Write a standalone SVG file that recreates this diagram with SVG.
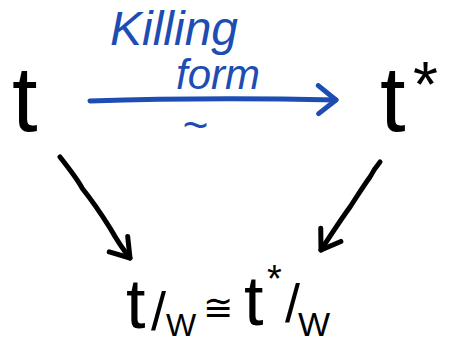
<svg xmlns="http://www.w3.org/2000/svg" width="451" height="344" viewBox="0 0 451 344">
  <style>
    .ink { fill: #000; font-family: "Liberation Sans", Arial, sans-serif; }
    .blue { fill: #1d4db3; font-family: "Liberation Sans", Arial, sans-serif; font-style: italic; }
    .sym { font-family: "DejaVu Sans", sans-serif; }
    .edge { fill: none; stroke-width: 5; stroke-linecap: round; stroke-linejoin: round; }
    .edge-black { stroke: #000; }
    .edge-blue { stroke: #1d4db3; }
  </style>
  <defs>
    <marker id="head-black" viewBox="0 0 24 30" refX="21" refY="15" markerWidth="24" markerHeight="30" markerUnits="userSpaceOnUse" orient="auto">
      <path d="M3,3 L21,15 L3,27" fill="none" stroke="#000" stroke-width="5" stroke-linecap="round" stroke-linejoin="round"/>
    </marker>
    <marker id="head-blue" viewBox="0 0 24 34" refX="21" refY="17" markerWidth="24" markerHeight="34" markerUnits="userSpaceOnUse" orient="auto">
      <path d="M3,3 L21,17 L4,31" fill="none" stroke="#1d4db3" stroke-width="5" stroke-linecap="round" stroke-linejoin="round"/>
    </marker>
  </defs>

  <rect width="451" height="344" fill="#fff"/>

  <!-- connectors -->
  <g id="connectors">
    <path id="killing-form-arrow" class="edge edge-blue" d="M90,101 C150,99 250,98 336,100" marker-end="url(#head-blue)"/>
    <path id="left-projection" class="edge edge-black" d="M60,157 C70,170 78,180 82,188 C90,198 100,212 110,228 C118,242 125,252 130,258" marker-end="url(#head-black)"/>
    <path id="right-projection" class="edge edge-black" d="M380,162 C375,168 372,173 370,177 C362,188 356,198 350,207 C342,218 334,230 321,250" marker-end="url(#head-black)"/>
  </g>

  <!-- Cartan subalgebra t -->
  <g id="node-t">
    <text class="ink" x="12" y="131" font-size="92">t</text>
  </g>

  <!-- dual space t* -->
  <g id="node-t-dual">
    <text class="ink" x="380" y="131" font-size="92">t</text>
    <text class="ink" x="413" y="107" font-size="64">*</text>
  </g>

  <!-- edge label above and below the blue arrow -->
  <g id="label-killing-form">
    <text class="blue" x="110" y="45" font-size="48">Killing</text>
    <text class="blue" x="176" y="89" font-size="42">form</text>
    <text class="blue" x="182" y="140" font-size="44">~</text>
  </g>

  <!-- quotient identification -->
  <g id="node-quotient">
    <text class="ink" x="126" y="328" font-size="70">t</text>
    <text class="ink" x="151" y="330" font-size="54">/</text>
    <text class="ink" x="166" y="336" font-size="32">W</text>
    <text class="ink sym" x="203" y="320" font-size="36">≅</text>
    <text class="ink" x="244" y="325" font-size="70">t</text>
    <text class="ink" x="267" y="292" font-size="38">*</text>
    <text class="ink" x="285" y="322" font-size="54">/</text>
    <text class="ink" x="298" y="336" font-size="34">W</text>
  </g>
</svg>
